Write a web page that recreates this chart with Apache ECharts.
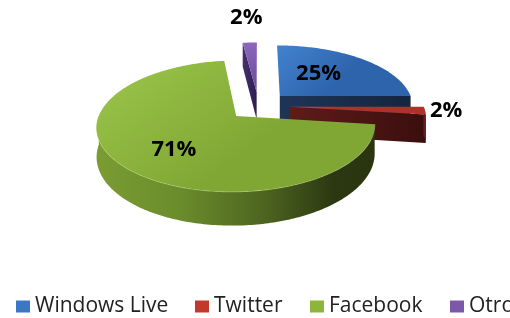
<!DOCTYPE html>
<html><head><meta charset="utf-8">
<script src="https://cdn.jsdelivr.net/npm/echarts@6/dist/echarts.min.js"></script>
<style>html,body{margin:0;padding:0;background:#fff}#c{width:510px;height:318px}</style>
</head><body><div id="c"></div>
<script>
// ---- data ----
const categories = ['Windows Live', 'Twitter', 'Facebook', 'Otro'];
const values = [25, 2, 71, 2];
const labelTexts = ['25%', '2%', '71%', '2%'];

// ---- styling / layout (not data) ----
const legendColors = ['#3b78c4', '#c0392b', '#8db53c', '#7b59a8'];
const topColors = [['#4382cf', '#2d64ac'], ['#d24a40', '#b0302a'], ['#9bc64b', '#80a734'], ['#8c68bc', '#6a4a98']];
const faceColors = [['#1e3558', '#14253f'], ['#5e1c1a', '#3a0e0d'], ['#7fa234', '#2a3510'], ['#45306e', '#2e1c50']];
const wallStops = [
  [['#2a4a7a', 0], ['#1a2f50', 1]],
  [['#7a2622', 0], ['#4a1412', 1]],
  [['#7a9c32', 0], ['#6b8c2c', 0.3], ['#4d6520', 0.6], ['#2c3811', 0.85], ['#2a3510', 1]],
  [['#4a3374', 0], ['#2e1c50', 1]]
];
const labelR = [0.45, 1.17, 0.55, 1.62];
const labelNudge = [[0, -5], [-2, 0], [-4, 7], [0, 0]];
const legendLeft = [16, 195, 310, 450];
const drawOrder = [3, 0, 1, 2];

const CX = 258.5, CY = 105.8, RX = 134, KR = 61, A = 0.15, H = 28, E = 0.23;
function proj(X, Y, h) {
  const s = 1 / (1 + Y * A);
  return [CX + X * RX * s, CY - Y * KR * s + h * H * s];
}
function pt(deg, r, off, h) {
  const t = deg * Math.PI / 180;
  return proj(r * Math.sin(t) + off[0], r * Math.cos(t) + off[1], h);
}
const total = values.reduce((a, b) => a + b, 0);
const starts = [];
{ let acc = 0; values.forEach(v => { starts.push(acc / total * 360); acc += v; }); }

function lin(x0, y0, x1, y1, c0, c1) {
  return new echarts.graphic.LinearGradient(x0, y0, x1, y1, [{offset: 0, color: c0}, {offset: 1, color: c1}]);
}

function renderSlice(i) {
  const a0 = starts[i], a1 = starts[i] + values[i] / total * 360;
  const mid = (a0 + a1) / 2 * Math.PI / 180;
  const off = [E * Math.sin(mid), E * Math.cos(mid)];
  const kids = [];
  const arc = (b0, b1, h) => { const p = []; const n = Math.max(2, Math.ceil(b1 - b0)); for (let k = 0; k <= n; k++) p.push(pt(b0 + (b1 - b0) * k / n, 1, off, h)); return p; };
  const apexT = pt(0, 0, off, 0), apexB = pt(0, 0, off, 1);
  const radial = (deg) => {
    const rt = pt(deg, 1, off, 0), rb = pt(deg, 1, off, 1);
    kids.push({type: 'polygon', shape: {points: [apexT, rt, rb, apexB]}, style: {fill: lin(0, 0, 1, 0, faceColors[i][0], faceColors[i][1])}});
  };
  if (Math.sin(a0 * Math.PI / 180) < -1e-6) radial(a0);
  if (Math.sin(a1 * Math.PI / 180) > 1e-6) radial(a1);
  const w0 = Math.max(a0, 90), w1 = Math.min(a1, 270);
  if (w1 > w0) {
    const top = arc(w0, w1, 0), bot = arc(w0, w1, 1).reverse();
    kids.push({type: 'polygon', shape: {points: top.concat(bot)},
      style: {fill: new echarts.graphic.LinearGradient(0, 0, 1, 0, wallStops[i].map(s => ({offset: s[1], color: s[0]})))}});
    kids.push({type: 'polyline', shape: {points: top}, style: {stroke: 'rgba(215,235,160,0.5)', lineWidth: 1.2, fill: null}});
  }
  const topPts = [apexT].concat(arc(a0, a1, 0));
  kids.push({type: 'polygon', shape: {points: topPts}, style: {fill: lin(0, 0, 0.35, 1, topColors[i][0], topColors[i][1])}});
  const lr = labelR[i];
  const lp = proj(lr * Math.sin(mid) + off[0], lr * Math.cos(mid) + off[1], 0);
  kids.push({type: 'text', x: lp[0] + labelNudge[i][0], y: lp[1] + labelNudge[i][1], z2: 100,
    style: {text: labelTexts[i], fill: '#000', font: 'bold 22px "Open Sans", sans-serif', align: 'center', verticalAlign: 'middle'}});
  return {type: 'group', children: kids};
}

const series = drawOrder.map(i => ({
  type: 'custom', name: categories[i], coordinateSystem: 'none',
  itemStyle: {color: legendColors[i]},
  data: [{name: categories[i], value: values[i]}],
  renderItem: () => renderSlice(i)
}));

const legend = categories.map((c, i) => ({
  data: [c], left: legendLeft[i], top: 296, orient: 'horizontal', icon: 'rect',
  itemWidth: 14, itemHeight: 12, selectedMode: false, padding: 0,
  textStyle: {fontFamily: '"Open Sans", sans-serif', fontSize: 21, color: '#222'}
}));

const chart = echarts.init(document.getElementById('c'), null, {renderer: 'canvas'});
chart.setOption({animation: false, backgroundColor: '#fff', legend: legend, series: series});
</script></body></html>
